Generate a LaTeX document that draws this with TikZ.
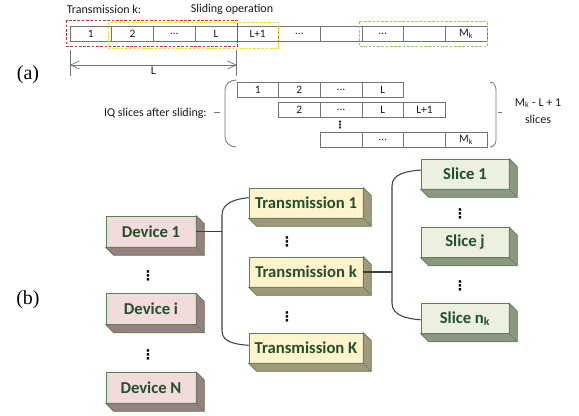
\documentclass[tikz,border=0pt]{standalone}
\usepackage{fontspec}
\setmainfont{Carlito}
\newfontfamily\partfont{Liberation Serif}
\newfontfamily\dotfont{DejaVu Sans}
\usetikzlibrary{arrows.meta}

\definecolor{edge}{HTML}{5E7E55}
\definecolor{txt}{HTML}{234F2C}
\definecolor{devfill}{HTML}{F2DCDB}
\definecolor{devside}{HTML}{968080}
\definecolor{trfill}{HTML}{FFF4CC}
\definecolor{trside}{HTML}{A09A7A}
\definecolor{slfill}{HTML}{EBF1DE}
\definecolor{slside}{HTML}{8D9883}
\definecolor{winred}{HTML}{CC3333}
\definecolor{winyellow}{HTML}{F2E21A}
\definecolor{wingreen}{HTML}{92D050}

\tikzset{
  cell/.style={draw=black!55, rectangle, minimum width=31.3pt, minimum height=11pt, inner sep=0pt, font=\fontsize{8.5}{9}\selectfont, text=black!90},
  note/.style={inner sep=0pt, font=\fontsize{9}{12.5}\selectfont, text=black!90, align=center},
  part/.style={inner sep=0pt, font=\partfont\fontsize{15}{16}\selectfont},
  block/.style={draw=edge, rectangle, inner sep=0pt, minimum height=22.5pt, font=\fontsize{12.5}{14}\selectfont\bfseries, text=txt},
  device/.style={block, fill=devfill, minimum width=67.5pt, minimum height=23.25pt},
  trans/.style={block, fill=trfill, minimum width=85.5pt},
  slice/.style={block, fill=slfill, minimum width=66pt},
  vdot/.style={inner sep=0pt, font=\dotfont\bfseries\fontsize{10}{10}\selectfont},
  window/.style={line width=0.8pt, dash pattern=on 2pt off 1.2pt},
  dim/.style={draw=black!55, line width=0.5pt},
  brace/.style={draw=black!55, line width=0.6pt},
  link/.style={draw=black!75, line width=0.8pt},
}

\begin{document}
\begin{tikzpicture}[x=0.75pt, y=-0.75pt]
  \useasboundingbox (0,0) rectangle (579,415);

  % (a) sliding window over one transmission
  \node[part] (pa) at (28,75) {(a)};
  \node[note] (trlab) at (104,9) {Transmission k:};
  \node[note] (sllab) at (232,9) {Sliding operation};

  \foreach \lab [count=\i] in {1,2,\dots,L,L+1,\dots,{},\dots,{},M\textsubscript{k}}
    \node[cell] (t\i) at ({70+41.7*(\i-0.5)},34) {\lab};

  \draw[window, winred] ([shift={(-3,-6)}]t1.north west) rectangle ([shift={(0,5)}]t4.south east);
  \draw[window, winyellow] ([shift={(-3,-4)}]t2.north west) rectangle ([shift={(0,7)}]t5.south east);
  \draw[window, wingreen] ([shift={(-2,-5)}]t8.north west) rectangle ([shift={(0,5)}]t10.south east);

  \coordinate (dl) at (70,65);
  \coordinate (dr) at (236.8,65);
  \draw[dim] (70,50) -- (70,76) (236.8,50) -- (236.8,76);
  \draw[dim, {Straight Barb[length=6.5pt,width=6pt]}-{Straight Barb[length=6.5pt,width=6pt]}] (dl) -- node[note, below=1pt] (ldim) {L} (dr);

  \foreach \lab [count=\i] in {1,2,\dots,L}
    \node[cell] (r\i) at ({236.8+41.7*(\i-0.5)},89.5) {\lab};
  \foreach \lab [count=\i] in {2,\dots,L,L+1}
    \node[cell] (s\i) at ({278.5+41.7*(\i-0.5)},109.5) {\lab};
  \foreach \lab [count=\i] in {{},\dots,{},M\textsubscript{k}}
    \node[cell] (u\i) at ({320.2+41.7*(\i-0.5)},139.5) {\lab};
  \node[vdot, font=\dotfont\bfseries\fontsize{7.5}{7.5}\selectfont] (rdots) at (340,125) {⋮};

  \node[note, anchor=east] (iqlab) at (207,113) {IQ slices after sliding:};
  \draw[brace] (236,80) to[out=180,in=90] (225,90) -- (225,137) to[out=-90,in=180] (236,147);
  \draw[brace] (214,112) -- (220,112);
  \draw[brace] (490,82) to[out=0,in=90] (496,90) -- (496,140) to[out=-90,in=0] (490,147);
  \draw[brace] (498,112) -- (502,112);
  \node[note] (cnt) at (538,111) {M\textsubscript{k} - L + 1\\slices};

  % (b) device / transmission / slice hierarchy
  \node[part] (pb) at (28,300) {(b)};

  \node[device] (dev1) at (151,231.5) {Device 1};
  \node[device] (devi) at (151,309) {Device i};
  \node[device] (devN) at (151,387.5) {Device N};
  \node[trans] (tr1) at (306,203) {Transmission 1};
  \node[trans] (trk) at (306,272) {Transmission k};
  \node[trans] (trK) at (306,348) {Transmission K};
  \node[slice] (sl1) at (465,174) {Slice 1};
  \node[slice] (slj) at (465,242.5) {Slice j};
  \node[slice] (sln) at (465,318.5) {Slice n\textsubscript{k}};

  \node[vdot] (ddot1) at (148,276) {⋮};
  \node[vdot] (ddot2) at (148,355) {⋮};
  \node[vdot] (tdot1) at (287,242) {⋮};
  \node[vdot] (tdot2) at (287,317) {⋮};
  \node[vdot] (sdot1) at (460,214) {⋮};
  \node[vdot] (sdot2) at (460,286) {⋮};

  % depth of the boxes
  \foreach \n/\c in {dev1/devside,devi/devside,devN/devside,tr1/trside,trk/trside,trK/trside,sl1/slside,slj/slside,sln/slside}{
    \filldraw[draw=edge, fill=\c, line width=0.5pt] (\n.north east) -- ++(8,8) -- ([shift={(8,8)}]\n.south east)
      -- ([shift={(8,8)}]\n.south west) -- (\n.south west) -- (\n.south east) -- cycle;
    \draw[edge, line width=0.5pt] (\n.south east) -- ++(8,8);
  }

  \draw[link] (dev1.east) -- ++(26,0);
  \draw[link] ([yshift=4pt]tr1.west) to[out=185,in=90] (222,215) -- (222,331) to[out=-90,in=175] ([yshift=2pt]trK.west);
  \draw[link] (trk.east) -- ++(29,0);
  \draw[link] ([yshift=3pt]sl1.west) to[out=185,in=90] (392,186) -- (392,303) to[out=-90,in=175] ([yshift=-1pt]sln.west);
\end{tikzpicture}
\end{document}
